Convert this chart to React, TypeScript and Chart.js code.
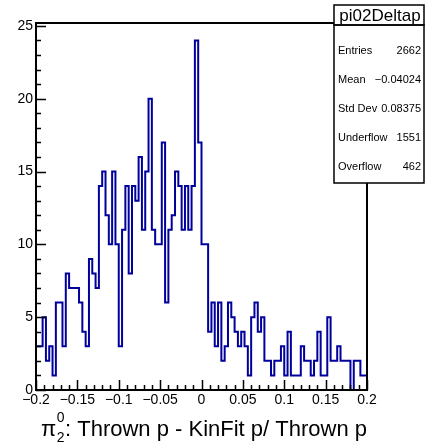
import { useEffect, useRef } from 'react';
import { Chart, registerables } from 'chart.js';

Chart.register(...registerables);

// Histogram definition (100 bins from -0.2 to 0.2)
const histLow = -0.2;
const histHigh = 0.2;
const binCount = 100;

// Bin contents
const counts = [
  4, 3, 3, 5, 2, 3, 1, 6, 6, 3,
  8, 7, 7, 7, 6, 4, 3, 9, 8, 7,
  14, 15, 12, 10, 15, 10, 3, 11, 14, 8,
  14, 13, 16, 11, 15, 20, 11, 10, 10, 17,
  6, 11, 12, 15, 14, 11, 14, 11, 14, 24,
  17, 10, 10, 4, 6, 3, 6, 2, 3, 6,
  5, 4, 3, 4, 3, 1, 5, 6, 4, 5,
  2, 2, 1, 2, 2, 3, 1, 4, 1, 1,
  1, 3, 2, 2, 1, 2, 4, 1, 1, 5,
  2, 2, 3, 2, 2, 2, 0, 2, 2, 1,
];

const yMax = 25.2;
const xMajorTicks = [-0.2, -0.15, -0.1, -0.05, 0, 0.05, 0.1, 0.15, 0.2];
const xTickLabels = ['\u22120.2', '\u22120.15', '\u22120.1', '\u22120.05', '0', '0.05', '0.1', '0.15', '0.2'];
const xMinorStep = 0.01;
const yMajorTicks = [0, 5, 10, 15, 20, 25];
const yTickLabels = ['0', '5', '10', '15', '20', '25'];
const yMinorStep = 1;

const histName = 'pi02Deltap';
const statsLabels = ['Entries', 'Mean', 'Std Dev', 'Underflow', 'Overflow'];
const statsValues = ['2662', '\u22120.04024', '0.08375', '1551', '462'];

const FONT = '"Liberation Sans", Arial, Helvetica, sans-serif';

function buildPoints() {
  const w = (histHigh - histLow) / binCount;
  const pts: { x: number; y: number }[] = [{ x: histLow, y: 0 }];
  counts.forEach((c, i) => pts.push({ x: histLow + i * w, y: c }));
  pts.push({ x: histHigh, y: counts[counts.length - 1] });
  pts.push({ x: histHigh, y: 0 });
  return pts;
}

const rootPlugin = {
  id: 'rootStyle',
  afterDatasetsDraw(chart: any) {
    const { ctx, chartArea: a } = chart;
    const x = chart.scales.x;
    const y = chart.scales.y;
    ctx.save();
    ctx.strokeStyle = '#000';
    ctx.fillStyle = '#000';

    // ticks
    ctx.lineWidth = 1.5;
    ctx.beginPath();
    for (let v = 0; v <= yMax + 1e-9; v += yMinorStep) {
      const py = Math.round(y.getPixelForValue(v)) + 0.5;
      const major = yMajorTicks.some((t) => Math.abs(t - v) < 1e-6);
      const len = major ? 10 : 5;
      ctx.moveTo(a.left, py);
      ctx.lineTo(a.left + len, py);
    }
    for (let k = -20; k <= 20; k++) {
      const v = k * xMinorStep;
      const px = Math.round(x.getPixelForValue(v)) + 0.5;
      const major = xMajorTicks.some((t) => Math.abs(t - v) < 1e-6);
      const len = major ? 10 : 5;
      ctx.moveTo(px, a.bottom);
      ctx.lineTo(px, a.bottom - len);
    }
    ctx.stroke();

    // frame
    ctx.lineWidth = 2;
    ctx.strokeRect(a.left, a.top, a.right - a.left, a.bottom - a.top);

    // tick labels
    ctx.font = `14px ${FONT}`;
    ctx.textAlign = 'right';
    ctx.textBaseline = 'middle';
    yMajorTicks.forEach((v, i) => {
      ctx.fillText(yTickLabels[i], a.left - 3, y.getPixelForValue(v));
    });
    ctx.textAlign = 'center';
    ctx.textBaseline = 'top';
    xMajorTicks.forEach((v, i) => {
      ctx.fillText(xTickLabels[i], x.getPixelForValue(v), a.bottom + 3);
    });

    // x axis title: pi^0_2: Thrown p - KinFit p/ Thrown p
    const main = ': Thrown p - KinFit p/ Thrown p';
    ctx.textBaseline = 'alphabetic';
    ctx.textAlign = 'left';
    ctx.font = `22px ${FONT}`;
    const wPi = ctx.measureText('\u03c0').width;
    const wMain = ctx.measureText(main).width;
    ctx.font = `14px ${FONT}`;
    const wScr = ctx.measureText('0').width;
    const total = wPi + wScr + 1 + wMain;
    let tx = a.right - total;
    const base = 436;
    ctx.font = `22px ${FONT}`;
    ctx.fillText('\u03c0', tx, base);
    tx += wPi;
    ctx.font = `14px ${FONT}`;
    ctx.fillText('0', tx + 0.5, base - 14);
    ctx.fillText('2', tx + 0.5, base + 6);
    tx += wScr + 1;
    ctx.font = `22px ${FONT}`;
    ctx.fillText(main, tx, base);

    // stats box
    const bx = 334;
    const bw = 90;
    ctx.fillStyle = '#fff';
    ctx.fillRect(bx, 5, bw, 178);
    ctx.lineWidth = 1.5;
    ctx.strokeRect(bx, 5, bw, 20);
    ctx.strokeRect(bx, 25, bw, 158);
    ctx.fillStyle = '#000';
    ctx.font = `17px ${FONT}`;
    ctx.textAlign = 'center';
    ctx.textBaseline = 'middle';
    ctx.fillText(histName, bx + bw / 2 + 1, 16);
    ctx.font = `11px ${FONT}`;
    statsLabels.forEach((lab, i) => {
      const cy = 50.5 + 29 * i;
      ctx.textAlign = 'left';
      ctx.fillText(lab, bx + 4, cy);
      ctx.textAlign = 'right';
      ctx.fillText(statsValues[i], bx + bw - 3, cy);
    });
    ctx.restore();
  },
};

export default function App() {
  const ref = useRef<HTMLCanvasElement>(null);
  useEffect(() => {
    if (!ref.current) return;
    const chart = new Chart(ref.current, {
      type: 'line',
      data: {
        datasets: [
          {
            data: buildPoints(),
            stepped: 'after',
            borderColor: '#00009c',
            borderWidth: 2,
            pointRadius: 0,
            fill: false,
            tension: 0,
          },
        ],
      },
      options: {
        animation: false,
        responsive: false,
        devicePixelRatio: 1,
        layout: { padding: { left: 36, top: 23, right: 58, bottom: 53 } },
        plugins: { legend: { display: false }, tooltip: { enabled: false }, title: { display: false } },
        scales: {
          x: { type: 'linear', min: histLow, max: histHigh, display: false },
          y: { type: 'linear', min: 0, max: yMax, display: false },
        },
      },
      plugins: [rootPlugin],
    });
    return () => chart.destroy();
  }, []);
  return (
    <div style={{ position: 'absolute', left: 0, top: 0, width: 425, height: 443, background: '#fff' }}>
      <canvas ref={ref} width={425} height={443} style={{ width: 425, height: 443 }} />
    </div>
  );
}
